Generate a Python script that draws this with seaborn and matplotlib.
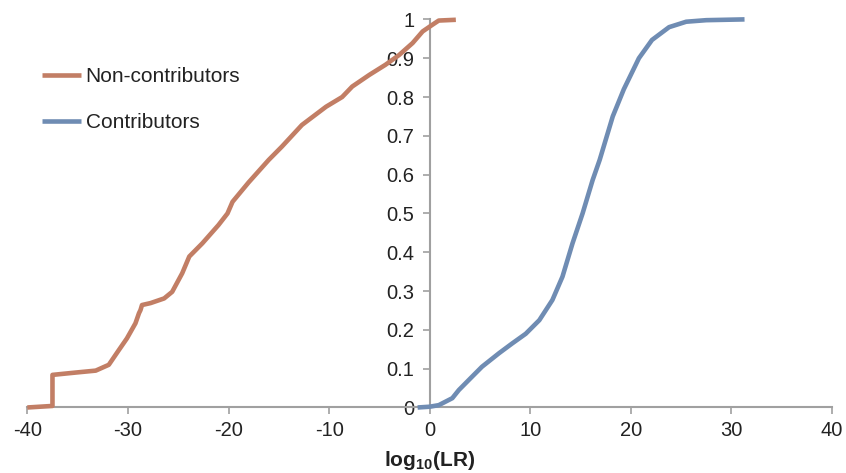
import numpy as np
import pandas as pd
import matplotlib
matplotlib.use("Agg")
import matplotlib.pyplot as plt
from matplotlib.ticker import FuncFormatter
import seaborn as sns

# values
noncontrib_x = [-40.0, -37.5, -37.5, -35.2, -33.2, -31.9, -30.9, -30.1, -29.25, -28.9, -28.75,
                -28.6, -27.75, -26.4, -25.6, -24.6, -23.9, -22.6, -21.0, -20.1, -19.6, -18.0,
                -16.0, -14.7, -12.7, -10.3, -8.7, -7.7, -6.0, -4.4, -3.05, -1.7, -0.7, 0.26,
                0.9, 2.6]
noncontrib_y = [0.0, 0.004, 0.084, 0.09, 0.095, 0.11, 0.148, 0.178, 0.217, 0.243, 0.251,
                0.264, 0.269, 0.281, 0.298, 0.346, 0.389, 0.423, 0.47, 0.50, 0.53, 0.58,
                0.638, 0.672, 0.728, 0.775, 0.80, 0.827, 0.857, 0.883, 0.908, 0.939, 0.969,
                0.986, 0.997, 0.999]

contrib_x = [-1.2, 0.0, 0.9, 2.25, 2.9, 4.2, 5.2, 6.9, 8.2, 9.55, 10.9, 12.2, 13.2, 14.2,
             15.2, 16.2, 16.9, 18.2, 19.3, 20.8, 22.1, 23.8, 25.5, 27.5, 31.3]
contrib_y = [0.0, 0.002, 0.006, 0.024, 0.045, 0.079, 0.105, 0.14, 0.165, 0.19, 0.225,
             0.277, 0.337, 0.423, 0.50, 0.586, 0.638, 0.75, 0.82, 0.90, 0.947, 0.98,
             0.994, 0.998, 1.0]

labels = ["Non-contributors", "Contributors"]
colors = ["#c27e65", "#6f8cb3"]

df = pd.concat([
    pd.DataFrame({"x": noncontrib_x, "y": noncontrib_y, "series": labels[0]}),
    pd.DataFrame({"x": contrib_x, "y": contrib_y, "series": labels[1]}),
], ignore_index=True)

sns.set_style("white")
plt.rcParams["font.family"] = ["Liberation Sans", "DejaVu Sans"]
plt.rcParams["axes.unicode_minus"] = False
plt.rcParams["mathtext.fontset"] = "custom"
plt.rcParams["mathtext.rm"] = "Liberation Sans"
plt.rcParams["mathtext.bf"] = "Liberation Sans:bold"

fig = plt.figure(figsize=(8.46, 4.73), dpi=100)
ax = fig.add_axes([0.0323, 0.1385, 0.9512, 0.8205])

sns.lineplot(data=df, x="x", y="y", hue="series", palette=colors, sort=False,
             estimator=None, linewidth=3.3, ax=ax)
for ln in ax.lines:
    ln.set_clip_on(False)
    ln.set_solid_capstyle("butt")

ax.set_xlim(-40, 40)
ax.set_ylim(0, 1)
ax.set_xticks(np.arange(-40, 41, 10))
ax.set_yticks(np.arange(0, 1.01, 0.1))
ax.yaxis.set_major_formatter(FuncFormatter(lambda v, p: "%g" % round(v, 1)))

ax.spines["left"].set_position(("data", 0))
ax.spines["top"].set_visible(False)
ax.spines["right"].set_visible(False)
for s in ["left", "bottom"]:
    ax.spines[s].set_color("#a0a0a0")
    ax.spines[s].set_linewidth(1.5)
    ax.spines[s].set_zorder(1)

ax.tick_params(axis="both", which="both", direction="out", length=5, width=1.2,
               color="#a0a0a0", labelsize=14.5, labelcolor="#222222")
ax.tick_params(axis="x", pad=5, bottom=True)
ax.tick_params(axis="y", pad=6, left=True)

ax.set_xlabel(r"$\mathbf{log_{10}(LR)}$", fontsize=15, color="#222222", labelpad=6)
ax.set_ylabel("")

leg = ax.legend(loc="upper left", bbox_to_anchor=(0.0, 0.915), frameon=False,
                fontsize=15, labelspacing=1.3, handlelength=1.9, handletextpad=0.2,
                borderaxespad=0.3)
for t in leg.get_texts():
    t.set_color("#222222")

fig.savefig("out.png", dpi=100)
